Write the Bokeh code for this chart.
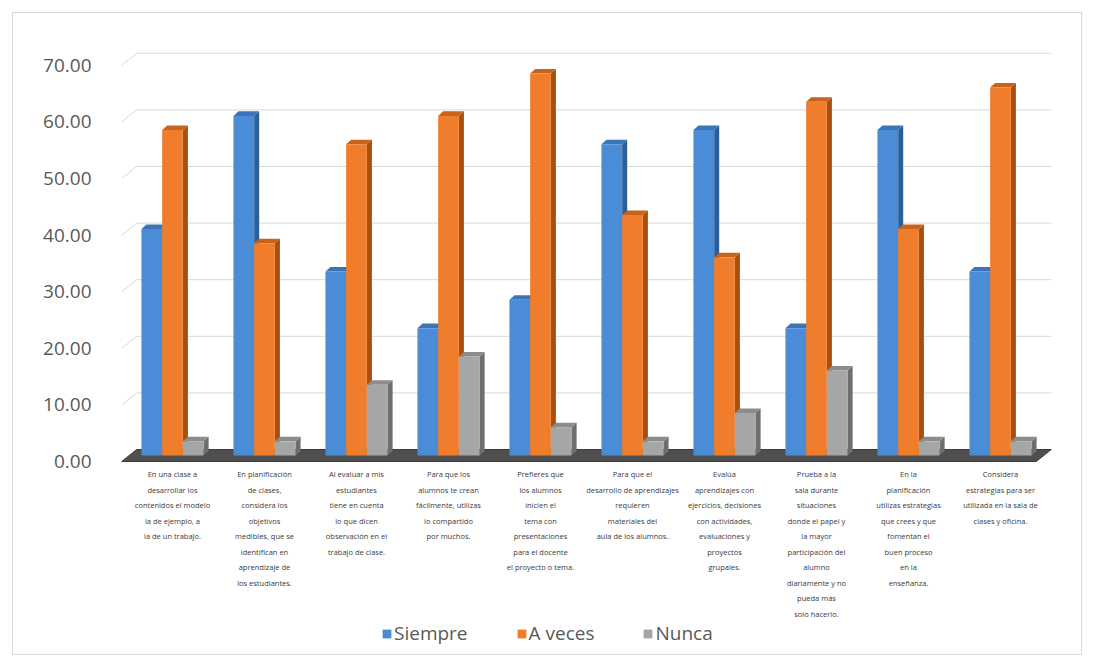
from bokeh.plotting import figure
from bokeh.models import Range1d, LinearAxis, FixedTicker, PrintfTickFormatter, Legend, LegendItem
from bokeh.core.properties import value
from bokeh.embed import file_html
from bokeh.resources import INLINE

categories = [
    "En una clase a\ndesarrollar los\ncontenidos el modelo\nla de ejemplo, a\nla de un trabajo.",
    "En planificación\nde clases,\nconsidera los\nobjetivos\nmedibles, que se\nidentifican en\naprendizaje de\nlos estudiantes.",
    "Al evaluar a mis\nestudiantes\ntiene en cuenta\nlo que dicen\nobservación en el\ntrabajo de clase.",
    "Para que los\nalumnos te crean\nfácilmente, utilizas\nlo compartido\npor muchos.",
    "Prefieres que\nlos alumnos\ninicien el\ntema con\npresentaciones\npara el docente\nel proyecto o tema.",
    "Para que el\ndesarrollo de aprendizajes\nrequieren\nmateriales del\naula de los alumnos.",
    "Evalúa\naprendizajes con\nejercicios, decisiones\ncon actividades,\nevaluaciones y\nproyectos\ngrupales.",
    "Prueba a la\nsala durante\nsituaciones\ndonde el papel y\nla mayor\nparticipación del\nalumno\ndiariamente y no\npueda más\nsolo hacerlo.",
    "En la\nplanificación\nutilizas estrategias\nque crees y que\nfomentan el\nbuen proceso\nen la\nenseñanza.",
    "Considera\nestrategias para ser\nutilizada en la sala de\nclases y oficina.",
]
series_names = ["Siempre", "A veces", "Nunca"]
siempre = [40.0, 60.0, 32.5, 22.5, 27.5, 55.0, 57.5, 22.5, 57.5, 32.5]
a_veces = [57.5, 37.5, 55.0, 60.0, 67.5, 42.5, 35.0, 62.5, 40.0, 65.0]
nunca = [2.5, 2.5, 12.5, 17.5, 5.0, 2.5, 7.5, 15.0, 2.5, 2.5]
y_ticks = [0, 10, 20, 30, 40, 50, 60, 70]

front_cols = ["#4A8DD6", "#F07D2C", "#A6A6A6"]
side_cols = ["#2C5F99", "#A9500F", "#6E6E6E"]
top_cols = ["#3B74B8", "#C9621B", "#8C8C8C"]

OFF = 12  # page offset of the chart box
W, H = 1070, 643
PXX, PXY = 92.0, 5.66
FL, FR, FT, FB = 112, 1060, 50, 645   # frame edges on the page
B_L, B_R, B_T, B_B = FL - OFF, OFF + W - FR, FT - OFF, OFF + H - FB
x0 = -(171 - FL) / PXX
x1 = x0 + (FR - FL) / PXX
y1 = (454 - FT) / PXY
y0 = y1 - (FB - FT) / PXY
D = 1.06      # half depth of the wall (y units)
DXW = 0.0815  # half depth of the wall (x units)
BW = 0.225    # bar width
BDX, BDY = 0.055, 0.8  # bar depth

p = figure(width=W, height=H, output_backend="svg", toolbar_location=None,
           x_range=Range1d(x0, x1), y_range=Range1d(y0, y1),
           x_axis_location=None, y_axis_location=None,
           min_border_left=B_L, min_border_right=B_R,
           min_border_top=B_T, min_border_bottom=B_B)
p.grid.visible = False
p.outline_line_color = None
p.background_fill_color = "white"
p.border_fill_color = "white"
p.styles = {"margin-left": f"{OFF}px", "margin-top": f"{OFF}px",
            "border": "1px solid #D9D9D9"}

p.extra_y_ranges = {"front": Range1d(y0 + D, y1 + D)}
ax = LinearAxis(y_range_name="front", ticker=FixedTicker(ticks=y_ticks),
                formatter=PrintfTickFormatter(format="%.2f"))
ax.axis_line_color = None
ax.major_tick_line_color = None
ax.minor_tick_line_color = None
ax.major_label_standoff = 16
ax.major_label_text_font = "Open Sans"
ax.major_label_text_font_size = "19px"
ax.major_label_text_color = "#595959"
p.add_layout(ax, "left")

n = len(categories)
wl, wr = -0.47, (n - 1) + 0.47
# back-wall gridlines and wall diagonals
p.segment(x0=[wl + DXW] * len(y_ticks), y0=[t + D for t in y_ticks],
          x1=[wr + DXW] * len(y_ticks), y1=[t + D for t in y_ticks],
          line_color="#D9D9D9", line_width=1)
p.segment(x0=[wl - DXW] * len(y_ticks), y0=[t - D for t in y_ticks],
          x1=[wl + DXW] * len(y_ticks), y1=[t + D for t in y_ticks],
          line_color="#D9D9D9", line_width=1)

# floor
p.patch(x=[wl - DXW, wr - DXW, wr + DXW, wl + DXW],
        y=[-D, -D, D, D], fill_color="#4F4F4F", line_color="#3A3A3A")

series = [siempre, a_veces, nunca]
offsets = [-BW, 0.0, BW]
renderers = []
for s, vals in enumerate(series):
    lefts = [i + offsets[s] - BW / 2 for i in range(n)]
    rights = [i + offsets[s] + BW / 2 for i in range(n)]
    p.patches(xs=[[r, r + BDX, r + BDX, r] for r in rights],
              ys=[[0, BDY, v + BDY, v] for v in vals],
              fill_color=side_cols[s], line_color=None)
    p.patches(xs=[[l, r, r + BDX, l + BDX] for l, r in zip(lefts, rights)],
              ys=[[v, v, v + BDY, v + BDY] for v in vals],
              fill_color=top_cols[s], line_color=None)
    r = p.quad(left=lefts, right=rights, bottom=[0] * n, top=vals,
               fill_color=front_cols[s], line_color=None)
    renderers.append(r)

# category labels
p.text(x=list(range(n)), y=[-2.4] * n, text=categories,
       text_align="center", text_baseline="top",
       text_font=value("Open Sans"), text_font_size="7.5px",
       text_line_height=1.55, text_color="#3A3A3A")

legend = Legend(items=[LegendItem(label=nm, renderers=[rr]) for nm, rr in zip(series_names, renderers)],
                orientation="horizontal", location=(268, 0))
legend.label_text_font = "Open Sans"
legend.label_text_font_size = "19px"
legend.label_text_color = "#595959"
legend.glyph_width = 11
legend.glyph_height = 11
legend.label_standoff = 2
legend.spacing = 48
legend.padding = 3
legend.margin = 0
legend.border_line_color = None
legend.background_fill_alpha = 0
p.add_layout(legend)

open("out.html", "w").write(file_html(p, INLINE))
